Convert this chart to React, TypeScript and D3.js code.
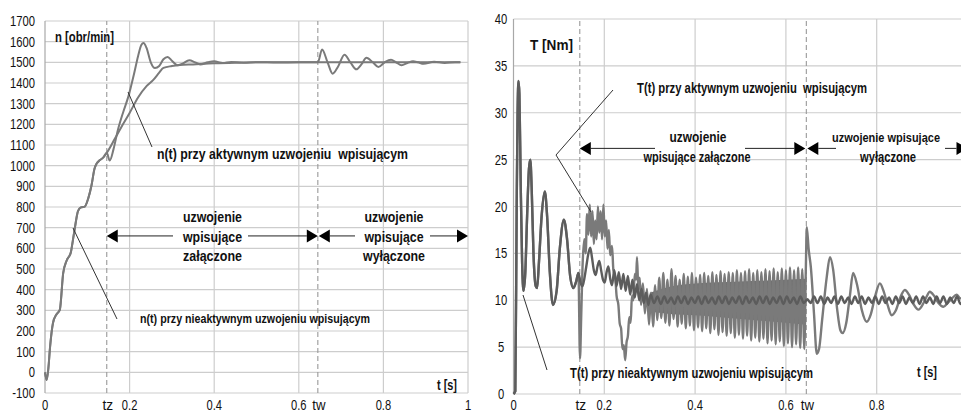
import * as d3 from "d3";

// ---- left panel: rotor speed n [obr/min] ----
const speedTicks = [-100, 0, 100, 200, 300, 400, 500, 600, 700, 800, 900, 1000, 1100, 1200, 1300, 1400, 1500, 1600, 1700];
const timeTicks = [0, 0.2, 0.4, 0.6, 0.8, 1];
const switchMarks = [
  { label: "tz", t: 0.146 },
  { label: "tw", t: 0.645 },
];

// both runs are identical until tz
const speedCommon: [number, number][] = [
  [0, 0], [0.004, -37], [0.008, 20], [0.012, 123], [0.019, 240], [0.027, 280], [0.035, 302],
  [0.043, 480], [0.051, 540], [0.061, 580], [0.066, 640], [0.071, 704], [0.078, 780],
  [0.085, 798], [0.094, 802], [0.102, 840], [0.11, 905], [0.117, 985], [0.122, 1010],
  [0.13, 1027], [0.138, 1040], [0.146, 1062],
];
const speedActiveAfter: [number, number][] = [
  [0.153, 1025], [0.162, 1080], [0.172, 1170], [0.185, 1260], [0.197, 1334], [0.21, 1440],
  [0.22, 1530], [0.228, 1585], [0.233, 1594], [0.24, 1570], [0.25, 1500], [0.26, 1472],
  [0.27, 1482], [0.28, 1515], [0.29, 1526], [0.3, 1508], [0.313, 1486], [0.325, 1494],
  [0.341, 1510], [0.355, 1500], [0.367, 1490], [0.385, 1500], [0.4, 1505], [0.42, 1497],
  [0.44, 1502], [0.47, 1498], [0.5, 1501], [0.55, 1499], [0.6, 1500], [0.645, 1500],
  [0.655, 1562], [0.668, 1500], [0.68, 1445], [0.693, 1480], [0.708, 1537], [0.722, 1500],
  [0.736, 1466], [0.748, 1490], [0.76, 1522], [0.775, 1500], [0.788, 1478], [0.803, 1500],
  [0.818, 1512], [0.83, 1500], [0.843, 1486], [0.857, 1497], [0.87, 1505], [0.882, 1500],
  [0.895, 1493], [0.92, 1503], [0.945, 1497], [0.97, 1501], [0.982, 1500],
];
const speedInactiveAfter: [number, number][] = [
  [0.165, 1130], [0.18, 1185], [0.2, 1255], [0.22, 1330], [0.24, 1385], [0.256, 1415],
  [0.27, 1450], [0.28, 1473], [0.3, 1482], [0.319, 1487], [0.35, 1490], [0.4, 1495],
  [0.45, 1498], [0.5, 1500], [0.6, 1500], [0.7, 1500], [0.8, 1500], [0.9, 1500], [0.982, 1500],
];

// ---- right panel: torque T [Nm] ----
const torqueTicks = [0, 5, 10, 15, 20, 25, 30, 35, 40];

const torqueCommon: [number, number][] = [
  [0, 0], [0.004, 0.3], [0.007, 20], [0.009, 30], [0.011, 33.4], [0.013, 32], [0.016, 22],
  [0.019, 14], [0.022, 11], [0.026, 13], [0.03, 19], [0.034, 24], [0.037, 25], [0.04, 22],
  [0.044, 15], [0.049, 11.5], [0.052, 11.3], [0.056, 14], [0.062, 19], [0.069, 21.6],
  [0.074, 19], [0.08, 13], [0.087, 9.5], [0.095, 11], [0.102, 15.5], [0.111, 18.6],
  [0.118, 16.5], [0.125, 12.5], [0.132, 11.3], [0.138, 12], [0.143, 12.9],
];
const torqueActiveAfter: [number, number][] = [
  [0.1465, 3.8], [0.149, 8], [0.152, 13.5], [0.156, 16.5], [0.159, 15], [0.162, 19.2],
  [0.165, 17], [0.168, 20.2], [0.171, 16.8], [0.174, 19.5], [0.177, 16], [0.18, 18.5],
  [0.183, 16.5], [0.186, 20], [0.189, 17.2], [0.192, 19.5], [0.195, 16.5], [0.198, 20.2],
  [0.201, 16.8], [0.204, 18.5], [0.207, 15.5], [0.21, 17.5], [0.213, 14.8], [0.217, 15.8],
  [0.22, 13.2], [0.224, 12.5], [0.227, 10.5], [0.231, 9.5], [0.234, 7.5], [0.237, 7.0],
  [0.24, 4.8], [0.243, 5.2], [0.246, 3.6], [0.249, 5.5], [0.252, 6.2], [0.255, 8.2],
  [0.258, 7.6], [0.261, 10.5], [0.264, 10], [0.267, 12.8], [0.27, 12.2], [0.272, 14.6],
  [0.275, 11.2], [0.278, 12.4], [0.281, 9.5],
];
// fast oscillation while the winding is on
const torqueBurst: [number, number][] = [
  [0.285, 11.8], [0.2895, 8.6], [0.294, 11.2], [0.2985, 7.4], [0.303, 10.8], [0.3075, 7.2],
  [0.312, 11.6], [0.3165, 7.9], [0.321, 12.4], [0.3255, 8.1], [0.33, 12.9], [0.3345, 7.6],
  [0.339, 12.2], [0.3435, 7.3], [0.348, 13.3], [0.3525, 8.0], [0.357, 12.6], [0.3615, 7.2],
  [0.366, 12.2], [0.3705, 7.5], [0.375, 12.8], [0.3795, 7.0], [0.384, 12.5], [0.3885, 7.3],
  [0.393, 12.9], [0.3975, 6.8], [0.402, 12.4], [0.4065, 7.1], [0.411, 12.7], [0.4155, 6.7],
  [0.42, 12.9], [0.4245, 7.0], [0.429, 12.6], [0.4335, 6.5], [0.438, 13.0], [0.4425, 6.9],
  [0.447, 12.7], [0.4515, 6.3], [0.456, 13.1], [0.4605, 6.6], [0.465, 12.8], [0.4695, 6.2],
  [0.474, 13.0], [0.4785, 6.5], [0.483, 12.9], [0.4875, 6.0], [0.492, 13.2], [0.4965, 6.3],
  [0.501, 12.9], [0.5055, 5.9], [0.51, 13.1], [0.5145, 6.2], [0.519, 13.3], [0.5235, 5.7],
  [0.528, 12.9], [0.5325, 6.0], [0.537, 13.2], [0.5415, 5.6], [0.546, 13.0], [0.5505, 5.9],
  [0.555, 13.3], [0.5595, 5.4], [0.564, 13.1], [0.5685, 5.7], [0.573, 13.4], [0.5775, 5.3],
  [0.582, 13.0], [0.5865, 5.6], [0.591, 13.4], [0.5955, 5.1], [0.6, 13.2], [0.6045, 5.4],
  [0.609, 13.5], [0.6135, 5.0], [0.618, 13.2], [0.6225, 5.3], [0.627, 13.5], [0.6315, 4.9],
  [0.636, 13.3], [0.6405, 4.8], [0.644, 13.6],
];
const burstCoreUpper: [number, number][] = [
  [0.3, 10.8], [0.35, 11.5], [0.4, 11.8], [0.5, 12.0], [0.6, 12.2], [0.644, 12.3],
];
const burstCoreLower: [number, number][] = [
  [0.3, 8.8], [0.35, 8.5], [0.4, 8.4], [0.5, 8.0], [0.6, 7.6], [0.644, 7.4],
];
// after tw: decaying swing
const torqueActiveOff: [number, number][] = [
  [0.646, 17.8], [0.65, 15.5], [0.655, 13.5], [0.662, 8.5], [0.668, 4.3], [0.673, 4.8],
  [0.68, 8], [0.69, 12.5], [0.697, 14.6], [0.704, 13.3], [0.713, 9], [0.72, 6.8],
  [0.725, 6.5], [0.733, 7.6], [0.741, 10.5], [0.748, 12.9], [0.757, 11.6], [0.767, 9],
  [0.778, 7.7], [0.787, 8.5], [0.797, 10.5], [0.807, 11.8], [0.815, 11], [0.824, 9.5],
  [0.833, 8.4], [0.842, 8.9], [0.852, 10.3], [0.862, 11.1], [0.871, 10.6], [0.881, 9.6],
  [0.892, 9.0], [0.902, 9.6], [0.91, 10.4], [0.917, 10.9], [0.926, 10.5], [0.936, 9.7],
  [0.947, 9.3], [0.956, 9.7], [0.966, 10.2], [0.976, 10.6], [0.984, 10.2], [0.992, 10.4],
];
const torqueInactiveAfter: [number, number][] = [
  [0.148, 11.8], [0.152, 11.5], [0.156, 12.3], [0.16, 13.5], [0.165, 15.0], [0.169, 15.6],
  [0.173, 14.5], [0.177, 13.2], [0.181, 12.7], [0.185, 13.6], [0.189, 14.2], [0.193, 13.2],
  [0.197, 12.2], [0.201, 11.9], [0.205, 13.0], [0.209, 13.6], [0.213, 12.3], [0.217, 11.6],
  [0.222, 13.2], [0.227, 11.5], [0.232, 13.0], [0.237, 11.2], [0.242, 12.8], [0.247, 11.0],
  [0.252, 12.6], [0.257, 10.6], [0.262, 12.2], [0.267, 10.3], [0.272, 11.7], [0.277, 10.0],
  [0.282, 11.2], [0.287, 9.7], [0.292, 10.8], [0.297, 9.5], [0.302, 10.6],
];
const torqueRipple: [number, number][] = [
  [0.3095, 9.7], [0.317, 10.4], [0.3245, 9.6], [0.332, 10.4], [0.3395, 9.7], [0.347, 10.3],
  [0.3545, 9.6], [0.362, 10.4], [0.3695, 9.7], [0.377, 10.4], [0.3845, 9.6], [0.392, 10.3],
  [0.3995, 9.7], [0.407, 10.4], [0.4145, 9.6], [0.422, 10.4], [0.4295, 9.7], [0.437, 10.3],
  [0.4445, 9.6], [0.452, 10.4], [0.4595, 9.7], [0.467, 10.4], [0.4745, 9.6], [0.482, 10.3],
  [0.4895, 9.7], [0.497, 10.4], [0.5045, 9.6], [0.512, 10.4], [0.5195, 9.7], [0.527, 10.3],
  [0.5345, 9.6], [0.542, 10.4], [0.5495, 9.7], [0.557, 10.4], [0.5645, 9.6], [0.572, 10.3],
  [0.5795, 9.7], [0.587, 10.4], [0.5945, 9.6], [0.602, 10.4], [0.6095, 9.7], [0.617, 10.3],
  [0.6245, 9.6], [0.632, 10.4], [0.6395, 9.7], [0.647, 10.1], [0.6545, 9.7], [0.662, 10.4],
  [0.6695, 9.7], [0.677, 10.4], [0.6845, 9.6], [0.692, 10.3], [0.6995, 9.7], [0.707, 10.4],
  [0.7145, 9.6], [0.722, 10.4], [0.7295, 9.7], [0.737, 10.3], [0.7445, 9.6], [0.752, 10.4],
  [0.7595, 9.7], [0.767, 10.4], [0.7745, 9.6], [0.782, 10.3], [0.7895, 9.7], [0.797, 10.4],
  [0.8045, 9.6], [0.812, 10.4], [0.8195, 9.7], [0.827, 10.3], [0.8345, 9.6], [0.842, 10.4],
  [0.8495, 9.7], [0.857, 10.4], [0.8645, 9.6], [0.872, 10.3], [0.8795, 9.7], [0.887, 10.4],
  [0.8945, 9.6], [0.902, 10.4], [0.9095, 9.7], [0.917, 10.3], [0.9245, 9.6], [0.932, 10.4],
  [0.9395, 9.7], [0.947, 10.4], [0.9545, 9.6], [0.962, 10.3], [0.9695, 9.7], [0.977, 10.4],
  [0.9845, 9.6], [0.992, 10.3],
];

const W = 961;
const FONT = "'Liberation Sans Narrow', 'Arial Narrow', 'Liberation Sans', Arial, sans-serif";
const GRID = "#cdcdcd";
const CURVE = "#7a7a7a";
const CURVE_DARK = "#5c5c5c";

type Scale = d3.ScaleLinear<number, number>;

// rough width of a tick label in the narrow face of the original
const glyphW: Record<string, number> = { ".": 3, "-": 4, t: 4.2, z: 6.5, w: 9 };
const narrowWidth = (s: string) => s.split("").reduce((a, c) => a + (glyphW[c] ?? 6.25), 0);

function Tick({ x, y, text, anchor, dy }: { x: number; y: number; text: string; anchor: "end" | "middle"; dy?: string }) {
  return (
    <text x={x} y={y} dy={dy} textAnchor={anchor} fontSize={14} fill="#111"
      textLength={narrowWidth(text)} lengthAdjust="spacingAndGlyphs">{text}</text>
  );
}

function Frame({ x, y, yTicks, yLabelX, yAnchor }: {
  x: Scale; y: Scale; yTicks: number[]; yLabelX: number; yAnchor: "end" | "middle";
}) {
  const [x0, x1] = x.range();
  const [y0, y1] = y.range();
  return (
    <g>
      {yTicks.map((v) => (
        <g key={"y" + v}>
          <line x1={x0} x2={x1} y1={y(v)} y2={y(v)} stroke={GRID} strokeWidth={1.2} />
          <Tick x={yLabelX} y={y(v)} dy="0.36em" anchor={yAnchor} text={String(v)} />
        </g>
      ))}
      {timeTicks.slice(1).map((t) => (
        <line key={"x" + t} x1={x(t)} x2={x(t)} y1={y0} y2={y1} stroke={GRID} strokeWidth={1.2} />
      ))}
      <line x1={x0} x2={x0} y1={y0} y2={y1} stroke="#a8a8a8" strokeWidth={1.2} />
      {switchMarks.map((m) => (
        <line key={m.label} x1={x(m.t)} x2={x(m.t)} y1={y0} y2={y1} stroke="#999" strokeWidth={1.1} strokeDasharray="5,3" />
      ))}
      {timeTicks.filter((t) => x(t) < W - 4).map((t) => (
        <Tick key={"tl" + t} x={x(t)} y={410} anchor="middle" text={String(t)} />
      ))}
      {switchMarks.map((m) => (
        <Tick key={"sl" + m.label} x={x(m.t) + 1} y={410} anchor="middle" text={m.label} />
      ))}
    </g>
  );
}

function DoubleArrow({ x1, x2, y, gap }: { x1: number; x2: number; y: number; gap: [number, number] }) {
  const hl = 11, hh = 6.5;
  return (
    <g>
      <line x1={x1 + hl} x2={gap[0]} y1={y} y2={y} stroke="#222" strokeWidth={1} />
      <line x1={gap[1]} x2={x2 - hl} y1={y} y2={y} stroke="#222" strokeWidth={1} />
      <polygon points={`${x1},${y} ${x1 + hl},${y - hh} ${x1 + hl},${y + hh}`} fill="#000" />
      <polygon points={`${x2},${y} ${x2 - hl},${y - hh} ${x2 - hl},${y + hh}`} fill="#000" />
    </g>
  );
}

function Label({ x, y, text, size = 14, len, anchor = "start" }: {
  x: number; y: number; text: string; size?: number; len?: number; anchor?: "start" | "middle" | "end";
}) {
  return (
    <text x={x} y={y} fontSize={size} fontWeight="bold" textAnchor={anchor} fill="#111"
      style={{ whiteSpace: "pre" }}
      {...(len ? { textLength: len, lengthAdjust: "spacingAndGlyphs" } : {})}>
      {text}
    </text>
  );
}

function SpeedPanel() {
  const x = d3.scaleLinear().domain([0, 1]).range([45, 468]);
  const y = d3.scaleLinear().domain([-100, 1700]).range([393, 21]);
  const line = d3.line<[number, number]>().x((d) => x(d[0])).y((d) => y(d[1])).curve(d3.curveMonotoneX);
  const tz = x(switchMarks[0].t), tw = x(switchMarks[1].t), tEnd = x(1);
  const arrowY = y(660);
  return (
    <g>
      <Frame x={x} y={y} yTicks={speedTicks} yLabelX={35} yAnchor="end" />
      <path d={line([...speedCommon, ...speedInactiveAfter]) || ""} fill="none" stroke={CURVE} strokeWidth={2} />
      <path d={line([...speedCommon, ...speedActiveAfter]) || ""} fill="none" stroke={CURVE} strokeWidth={2} />
      <Label x={55} y={42} text="n [obr/min]" len={59} />
      <line x1={128} y1={92} x2={152} y2={147} stroke="#333" strokeWidth={1} />
      <Label x={157} y={159} text="n(t) przy aktywnym uzwojeniu  wpisującym" len={251} />
      <line x1={73} y1={228} x2={117} y2={319} stroke="#333" strokeWidth={1} />
      <Label x={140} y={323} text="n(t) przy nieaktywnym uzwojeniu wpisującym" size={13.5} len={230} />
      <DoubleArrow x1={tz} x2={tw} y={arrowY} gap={[173, 248]} />
      <DoubleArrow x1={tw + 1} x2={tEnd} y={arrowY} gap={[355, 430]} />
      <Label x={212.5} y={222} text="uzwojenie" size={15} anchor="middle" len={59} />
      <Label x={212.5} y={242} text="wpisujące" size={15} anchor="middle" len={59} />
      <Label x={212.5} y={261} text="załączone" size={15} anchor="middle" len={59} />
      <Label x={394} y={222} text="uzwojenie" size={15} anchor="middle" len={59} />
      <Label x={394} y={242} text="wpisujące" size={15} anchor="middle" len={59} />
      <Label x={394} y={261} text="wyłączone" size={15} anchor="middle" len={62} />
      <Label x={457} y={390} text="t [s]" size={15} anchor="end" len={20} />
    </g>
  );
}

function TorquePanel() {
  const x = d3.scaleLinear().domain([0, 1]).range([513.5, 967.5]);
  const y = d3.scaleLinear().domain([0, 40]).range([394, 19]);
  const line = d3.line<[number, number]>().x((d) => x(d[0])).y((d) => y(d[1]));
  const smooth = line.curve(d3.curveMonotoneX);
  const core = d3.area<number>()
    .x((_, i) => x(burstCoreUpper[i][0]))
    .y0((_, i) => y(burstCoreLower[i][1]))
    .y1((_, i) => y(burstCoreUpper[i][1]))
    .curve(d3.curveMonotoneX);
  const tz = x(switchMarks[0].t), tw = x(switchMarks[1].t), tEnd = x(1);
  const arrowY = y(26.2);
  const active = [...torqueCommon, ...torqueActiveAfter, ...torqueBurst, ...torqueActiveOff];
  const inactive = [...torqueCommon, ...torqueInactiveAfter, ...torqueRipple];
  return (
    <g>
      <Frame x={x} y={y} yTicks={torqueTicks} yLabelX={501} yAnchor="middle" />
      <path d={core(burstCoreUpper.map(() => 0)) || ""} fill="#6e6e6e" />
      <path d={smooth(active) || ""} fill="none" stroke={CURVE} strokeWidth={2.4} strokeLinejoin="round" />
      <path d={smooth(inactive) || ""} fill="none" stroke={CURVE_DARK} strokeWidth={2.4} strokeLinejoin="round" />
      <Label x={530} y={50} text="T [Nm]" size={15} len={43} />
      <polyline points="613,90 556,155 591,212" fill="none" stroke="#333" strokeWidth={1} />
      <Label x={637} y={93} text="T(t) przy aktywnym uzwojeniu  wpisującym" size={14} len={230} />
      <DoubleArrow x1={tz} x2={tw - 1} y={arrowY} gap={[655, 745]} />
      <DoubleArrow x1={tw + 1} x2={tEnd} y={arrowY} gap={[836, 945]} />
      <Label x={698} y={142} text="uzwojenie" size={14.5} anchor="middle" len={57} />
      <Label x={697} y={162} text="wpisujące załączone" size={14.5} anchor="middle" len={107} />
      <Label x={886} y={142} text="uzwojenie wpisujące" size={13} anchor="middle" len={108} />
      <Label x={888} y={162} text="wyłączone" size={14.5} anchor="middle" len={56} />
      <line x1={523} y1={295} x2={547} y2={370} stroke="#333" strokeWidth={1} />
      <Label x={570} y={378} text="T(t) przy nieaktywnym uzwojeniu wpisującym" size={14} len={243} />
      <Label x={937} y={377} text="t [s]" size={15} anchor="end" len={20} />
    </g>
  );
}

export default function App() {
  return (
    <svg width={W} height={414} style={{ position: "absolute", left: 0, top: 0, background: "#fff" }}
      fontFamily={FONT}>
      <rect width={W} height={414} fill="#fff" />
      <SpeedPanel />
      <TorquePanel />
    </svg>
  );
}
